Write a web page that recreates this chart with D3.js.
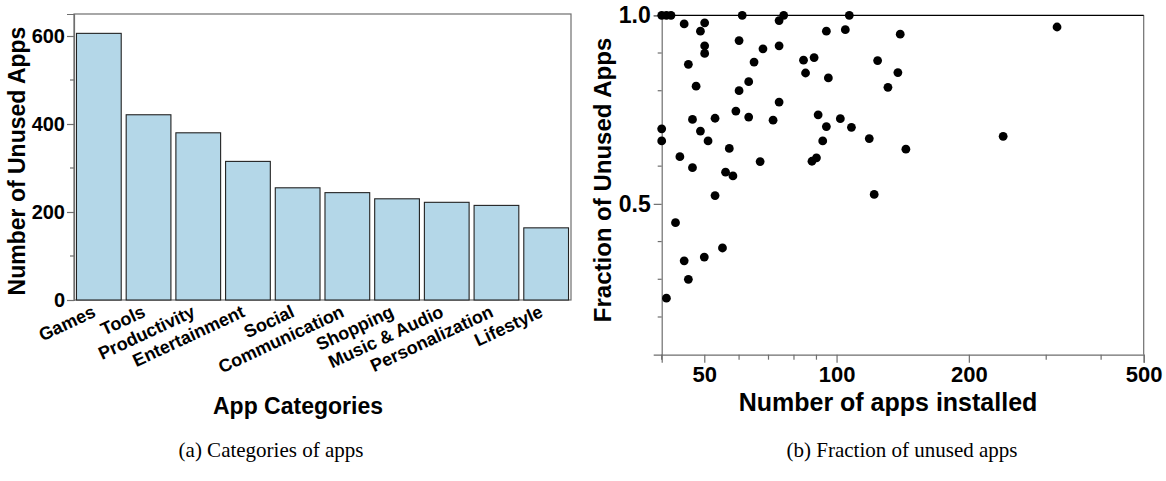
<!DOCTYPE html>
<html>
<head>
<meta charset="utf-8">
<script src="https://cdn.jsdelivr.net/npm/d3@7"></script>
<style>
  html, body { margin: 0; padding: 0; background: #fff; }
  svg { display: block; }
  .bold { font-family: "Liberation Sans", Arial, Helvetica, sans-serif; font-weight: bold; fill: #000; }
  .cap { font-family: "Liberation Serif", "Times New Roman", serif; fill: #000; }
</style>
</head>
<body>
<svg id="chart" width="1166" height="481"></svg>
<script>
// ---------- Data ----------
const categories = ["Games", "Tools", "Productivity", "Entertainment", "Social",
  "Communication", "Shopping", "Music & Audio", "Personalization", "Lifestyle"];
const unusedCounts = [606, 421, 380, 315, 255, 244, 230, 222, 215, 164];
const countTicks = [0, 200, 400, 600];
const countMinorTicks = [100, 300, 500];

const appsInstalled = [40, 41, 42, 45.0, 49.0, 50.1, 50.1, 50.1, 46.0, 47.9,
  47.0, 49.0, 51.0, 40, 40, 44.0, 47.0, 52.9, 52.9, 43.0,
  55.0, 57.0, 55.9, 58.1, 59.0, 60.0, 60.0, 61.0, 63.1, 63.1,
  64.9, 68.0, 67.0, 71.7, 74.0, 74.0, 74.0, 75.8, 84.1, 85.0,
  88.9, 90.8, 87.9, 90.0, 93.0, 94.8, 95.8, 94.8, 102.0, 104.7,
  106.9, 108.1, 118.7, 121.8, 124.0, 139.6, 137.9, 130.9, 143.8, 239.4,
  317.5, 45.0, 46.0, 50.0, 41.0];
const fractionUnused = [1.0, 1.0, 1.0, 0.977, 0.958, 0.980, 0.919, 0.899, 0.870, 0.812,
  0.724, 0.693, 0.667, 0.699, 0.667, 0.625, 0.596, 0.727, 0.522, 0.450,
  0.383, 0.647, 0.584, 0.574, 0.746, 0.800, 0.933, 1.0, 0.824, 0.730,
  0.876, 0.911, 0.612, 0.722, 0.770, 0.919, 0.986, 1.0, 0.881, 0.847,
  0.888, 0.736, 0.613, 0.622, 0.667, 0.958, 0.834, 0.705, 0.726, 0.962,
  1.0, 0.703, 0.673, 0.525, 0.880, 0.950, 0.848, 0.809, 0.645, 0.679,
  0.969, 0.349, 0.300, 0.359, 0.250];
const appTicks = [50, 100, 200, 500];
const appMinorTicks = [40, 60, 70, 80, 90, 300, 400];
const fracTicks = [0.5, 1.0];
const fracMinorTicks = [0.2, 0.3, 0.4, 0.6, 0.7, 0.8, 0.9];

// ---------- Setup ----------
const svg = d3.select("#chart");
const spine = "#6e6e6e";
const sans = "Liberation Sans, Arial, sans-serif";

// ================= Left chart =================
const L = { left: 74, right: 571, top: 14, bottom: 300 };
const xb = d3.scaleBand().domain(categories).range([L.left, L.right])
  .paddingInner(0.1).paddingOuter(0.05);
const yb = d3.scaleLinear().domain([0, 650]).range([L.bottom, L.top]);

const gL = svg.append("g");
gL.append("rect").attr("x", L.left).attr("y", L.top)
  .attr("width", L.right - L.left).attr("height", L.bottom - L.top)
  .attr("fill", "none").attr("stroke", spine).attr("stroke-width", 1.2);

gL.selectAll("rect.bar").data(unusedCounts).join("rect").attr("class", "bar")
  .attr("x", (d, i) => xb(categories[i]))
  .attr("y", d => yb(d))
  .attr("width", xb.bandwidth())
  .attr("height", d => yb(0) - yb(d))
  .attr("fill", "#b4d7e8").attr("stroke", "#222").attr("stroke-width", 1.1);

const yAxisL = gL.append("g").attr("transform", `translate(${L.left},0)`)
  .call(d3.axisLeft(yb).tickValues(countTicks).tickSize(7).tickPadding(2));
yAxisL.select(".domain").attr("stroke", spine).attr("stroke-width", 1.2);
yAxisL.selectAll(".tick line").attr("stroke", spine).attr("stroke-width", 1.2);
yAxisL.selectAll(".tick text").style("font-size", "20px")
  .style("font-family", sans).style("font-weight", "bold").attr("fill", "#000");
gL.append("g").selectAll("line").data(countMinorTicks).join("line")
  .attr("x1", L.left - 4).attr("x2", L.left).attr("y1", d => yb(d)).attr("y2", d => yb(d))
  .attr("stroke", spine).attr("stroke-width", 1.2);

gL.append("g").selectAll("text").data(categories).join("text").attr("class", "bold")
  .attr("transform", d => `translate(${xb(d) + xb.bandwidth() / 2 - 2},${L.bottom + 16}) rotate(-25)`)
  .attr("text-anchor", "end").style("font-size", "18px").text(d => d);

gL.append("text").attr("class", "bold").attr("text-anchor", "middle")
  .attr("x", 298).attr("y", 414).style("font-size", "23px").text("App Categories");
gL.append("text").attr("class", "bold").attr("text-anchor", "middle")
  .attr("transform", `translate(25,161) rotate(-90)`)
  .style("font-size", "23px").text("Number of Unused Apps");
gL.append("text").attr("class", "cap").attr("text-anchor", "middle")
  .attr("x", 271).attr("y", 457).style("font-size", "21px").text("(a) Categories of apps");

// ================= Right chart =================
const R = { left: 661.7, right: 1143.7, top: 15.3, bottom: 354.7 };
const xs = d3.scaleLog().domain([40, 500]).range([R.left, R.right]);
const ys = d3.scaleLinear().domain([0.1, 1.0]).range([R.bottom, R.top]);
const gR = svg.append("g");

gR.append("line").attr("x1", R.right).attr("x2", R.right).attr("y1", R.top).attr("y2", R.bottom)
  .attr("stroke", spine).attr("stroke-width", 1.2);
const xAxisR = gR.append("g").attr("transform", `translate(0,${R.bottom})`)
  .call(d3.axisBottom(xs).tickValues(appTicks).tickFormat(d3.format("d")).tickSize(8).tickPadding(4));
xAxisR.select(".domain").attr("stroke", spine).attr("stroke-width", 1.2);
xAxisR.selectAll(".tick line").attr("stroke", spine).attr("stroke-width", 1.2);
xAxisR.selectAll(".tick text").style("font-size", "22px")
  .style("font-family", sans).style("font-weight", "bold").attr("fill", "#000");
gR.append("g").selectAll("line").data(appMinorTicks).join("line")
  .attr("x1", d => xs(d)).attr("x2", d => xs(d)).attr("y1", R.bottom).attr("y2", R.bottom + 5)
  .attr("stroke", spine).attr("stroke-width", 1.2);

const yAxisR = gR.append("g").attr("transform", `translate(${R.left},0)`)
  .call(d3.axisLeft(ys).tickValues(fracTicks).tickFormat(d3.format(".1f")).tickSize(8).tickPadding(3));
yAxisR.select(".domain").attr("stroke", spine).attr("stroke-width", 1.2);
yAxisR.selectAll(".tick line").attr("stroke", spine).attr("stroke-width", 1.2);
yAxisR.selectAll(".tick text").style("font-size", "23px")
  .style("font-family", sans).style("font-weight", "bold").attr("fill", "#000");
gR.append("g").selectAll("line").data(fracMinorTicks).join("line")
  .attr("x1", R.left - 4).attr("x2", R.left).attr("y1", d => ys(d)).attr("y2", d => ys(d))
  .attr("stroke", spine).attr("stroke-width", 1.2);

gR.append("line").attr("x1", R.left).attr("x2", R.right).attr("y1", R.top).attr("y2", R.top)
  .attr("stroke", "#000").attr("stroke-width", 1.2);

gR.selectAll("circle").data(appsInstalled).join("circle")
  .attr("cx", d => xs(d)).attr("cy", (d, i) => ys(fractionUnused[i]))
  .attr("r", 4.4).attr("fill", "#000");

gR.append("text").attr("class", "bold").attr("text-anchor", "middle")
  .attr("x", 888).attr("y", 411).style("font-size", "25px").text("Number of apps installed");
gR.append("text").attr("class", "bold").attr("text-anchor", "middle")
  .attr("transform", `translate(611,180) rotate(-90)`)
  .style("font-size", "24px").text("Fraction of Unused Apps");
gR.append("text").attr("class", "cap").attr("text-anchor", "middle")
  .attr("x", 902).attr("y", 457).style("font-size", "21px").text("(b) Fraction of unused apps");
</script>
</body>
</html>
